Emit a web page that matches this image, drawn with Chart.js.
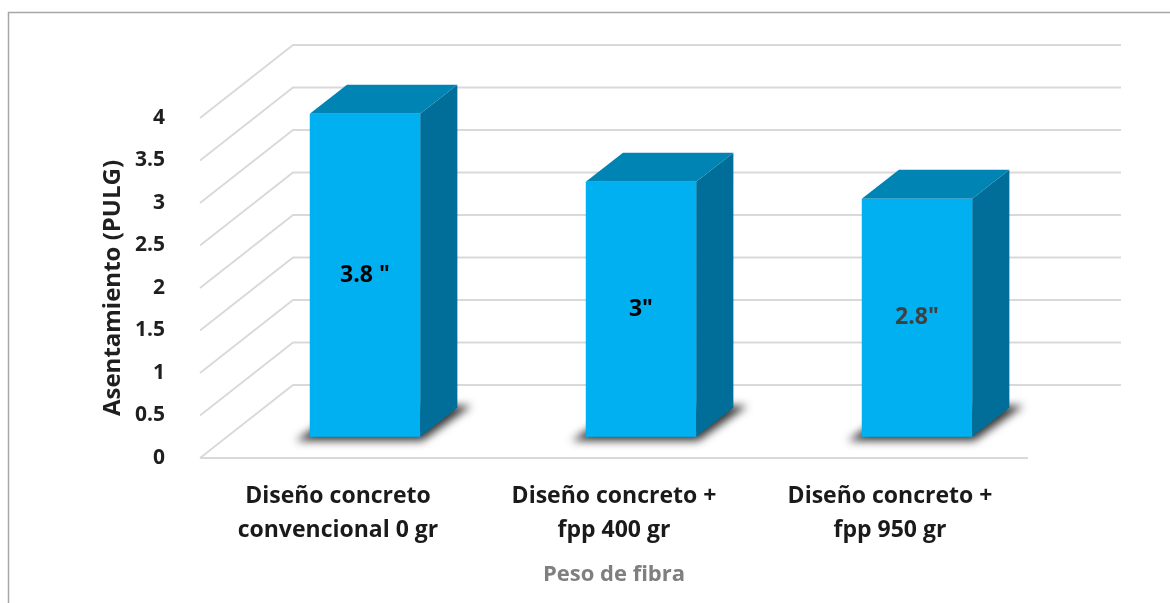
<!DOCTYPE html>
<html lang="es">

<head>
  <meta charset="UTF-8">
  <title>Asentamiento</title>
  <script src="https://cdn.jsdelivr.net/npm/chart.js"></script>
  <style>
    body { margin: 0; background: #fff; }
    .caja { width: 1170px; height: 603px; position: relative; }
  </style>
</head>

<body>
  <div class="caja">
    <canvas id="grafico"></canvas>
  </div>

<script>
  // datos
  const categorias = [
    ['Diseño concreto', 'convencional 0 gr'],
    ['Diseño concreto +', 'fpp 400 gr'],
    ['Diseño concreto +', 'fpp 950 gr']
  ];
  const asentamiento = [3.8, 3, 2.8];
  const etiquetas = ['3.8 "', '3"', '2.8"'];
  const colorEtiquetas = ['#000000', '#000000', '#404040'];

  // perspectiva (profundidad de la pared del fondo)
  const PROF_X = 93;
  const PROF_Y = -73;
  const INICIO_BARRA = 0.29;
  const FONDO_BARRA = 0.4;

  const fuente = '"Open Sans", Lato, sans-serif';

  const marco = {
    id: 'marco',
    beforeDraw(chart) {
      const ctx = chart.ctx;
      ctx.save();
      ctx.fillStyle = '#fff';
      ctx.fillRect(0, 0, chart.width, chart.height);
      ctx.strokeStyle = '#a6a6a6';
      ctx.lineWidth = 1.5;
      ctx.strokeRect(8.5, 12.5, chart.width + 20, chart.height + 20);
      ctx.restore();
    }
  };

  const rejilla3d = {
    id: 'rejilla3d',
    beforeDatasetsDraw(chart) {
      const ctx = chart.ctx;
      const a = chart.chartArea;
      const y = chart.scales.y;
      ctx.save();
      ctx.strokeStyle = '#d9d9d9';
      ctx.lineWidth = 1.8;
      y.ticks.forEach(function (t) {
        const py = y.getPixelForValue(t.value);
        ctx.beginPath();
        ctx.moveTo(a.left, py);
        ctx.lineTo(a.left + PROF_X, py + PROF_Y);
        ctx.lineTo(a.right + PROF_X, py + PROF_Y);
        ctx.stroke();
      });
      // borde frontal del piso
      const p0 = y.getPixelForValue(0);
      ctx.beginPath();
      ctx.moveTo(a.left, p0);
      ctx.lineTo(a.right, p0);
      ctx.stroke();
      ctx.restore();
    }
  };

  const barras3d = {
    id: 'barras3d',
    afterDatasetsDraw(chart) {
      const ctx = chart.ctx;
      const meta = chart.getDatasetMeta(0);
      const ox = PROF_X * INICIO_BARRA, oy = PROF_Y * INICIO_BARRA;
      const dx = PROF_X * FONDO_BARRA, dy = PROF_Y * FONDO_BARRA;
      meta.data.forEach(function (bar, i) {
        const x0 = bar.x - bar.width / 2 + ox;
        const x1 = bar.x + bar.width / 2 + ox;
        const top = bar.y + oy;
        const bot = bar.base + oy;

        // sombra en el piso
        ctx.save();
        ctx.filter = 'blur(4px)';
        ctx.fillStyle = 'rgba(20,20,20,0.85)';
        ctx.beginPath();
        ctx.moveTo(x0 - 14, bot + 4);
        ctx.lineTo(x1 + 2, bot + 4);
        ctx.lineTo(x1 + dx + 14, bot + dy - 2);
        ctx.lineTo(x0 + dx, bot + dy - 2);
        ctx.closePath();
        ctx.fill();
        ctx.restore();

        ctx.save();
        // cara lateral
        ctx.fillStyle = '#006e98';
        ctx.beginPath();
        ctx.moveTo(x1, top);
        ctx.lineTo(x1 + dx, top + dy);
        ctx.lineTo(x1 + dx, bot + dy);
        ctx.lineTo(x1, bot);
        ctx.closePath();
        ctx.fill();
        // cara superior
        ctx.fillStyle = '#0084b4';
        ctx.beginPath();
        ctx.moveTo(x0, top);
        ctx.lineTo(x0 + dx, top + dy);
        ctx.lineTo(x1 + dx, top + dy);
        ctx.lineTo(x1, top);
        ctx.closePath();
        ctx.fill();
        // cara frontal
        ctx.fillStyle = '#00b0f0';
        ctx.fillRect(x0, top, x1 - x0, bot - top);

        // etiqueta de datos
        ctx.fillStyle = colorEtiquetas[i];
        ctx.font = 'bold 23px ' + fuente;
        ctx.textAlign = 'center';
        ctx.textBaseline = 'middle';
        ctx.fillText(etiquetas[i], (x0 + x1) / 2, (top + bot) / 2);
        ctx.restore();
      });
    }
  };

  new Chart(document.getElementById('grafico'), {
    type: 'bar',
    data: {
      labels: categorias,
      datasets: [{
        label: 'Asentamiento',
        data: asentamiento,
        backgroundColor: 'rgba(0,0,0,0)',
        categoryPercentage: 1,
        barPercentage: 0.4
      }]
    },
    options: {
      responsive: true,
      maintainAspectRatio: false,
      animation: false,
      layout: { padding: { left: 8, top: 118, right: 142, bottom: 0 } },
      plugins: {
        legend: { display: false },
        tooltip: { enabled: false }
      },
      scales: {
        y: {
          min: 0,
          max: 4,
          ticks: {
            stepSize: 0.5,
            padding: 27,
            color: '#1f1f1f',
            font: { family: fuente, weight: 'bold', size: 21 },
            callback: function (v) { return String(v); }
          },
          grid: { display: false },
          border: { display: false },
          title: {
            display: true,
            text: 'Asentamiento (PULG)',
            color: '#1f1f1f',
            font: { family: fuente, weight: 'bold', size: 24 },
            padding: { top: 91, bottom: 0 }
          },
          afterFit(scale) { scale.width = 192; }
        },
        x: {
          ticks: {
            padding: 13,
            color: '#1a1a1a',
            font: { family: fuente, weight: 'bold', size: 23, lineHeight: 1.48 },
            maxRotation: 0
          },
          grid: { display: false },
          border: { display: false },
          title: {
            display: true,
            text: 'Peso de fibra',
            color: '#7f7f7f',
            font: { family: fuente, weight: 'bold', size: 22 },
            padding: { top: 0, bottom: 15 }
          },
          afterFit(scale) { scale.height = 145; }
        }
      }
    },
    plugins: [marco, rejilla3d, barras3d]
  });
</script>
</body>

</html>
